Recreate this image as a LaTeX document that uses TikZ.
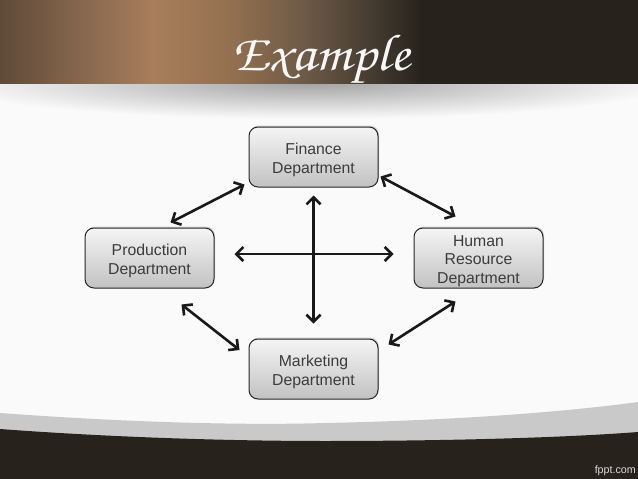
\documentclass[tikz,border=0pt]{standalone}
\usepackage{fontspec}
\setmainfont{Liberation Sans}
\usetikzlibrary{shadows,arrows.meta}
\definecolor{bandbrown}{HTML}{A87E5C}
\definecolor{banddark}{HTML}{27231C}
\definecolor{bandedge}{HTML}{5F4A38}
\definecolor{bandleft}{HTML}{7E6149}
\definecolor{bandright}{HTML}{94704F}
\definecolor{bandmid}{HTML}{6C5947}
\definecolor{bandlow}{HTML}{3F362C}
\definecolor{footgrey}{HTML}{C9C9C9}
\definecolor{textgrey}{HTML}{3C3C3C}
\pgfdeclarehorizontalshading{bandshade}{100bp}{color(0bp)=(bandedge); color(25bp)=(bandedge); color(30bp)=(bandleft); color(37bp)=(bandbrown); color(43bp)=(bandright); color(49bp)=(bandmid); color(55bp)=(bandlow); color(58bp)=(banddark); color(100bp)=(banddark)}
\newcommand{\titlefont}{\fontencoding{T1}\fontfamily{pzc}\fontseries{m}\fontshape{it}\fontsize{52}{52}\selectfont}
\newcommand{\boxstrut}{\rule{0pt}{17pt}}
\tikzset{
  deptbox/.style={draw=black!85,line width=1pt,rounded corners=9pt,minimum width=129pt,minimum height=60pt,inner ysep=0pt,
    top color=white!96!black,bottom color=black!24,align=center,text=textgrey,
    font=\fontsize{15.8}{18.3}\selectfont,
    drop shadow={shadow xshift=1pt,shadow yshift=1.5pt,opacity=0.35}},
  link/.style={<->,>={Straight Barb[length=7pt,width=14pt]},line width=2.6pt,black!90}
}
\begin{document}
\begin{tikzpicture}[x=1pt,y=-1pt]
\useasboundingbox (0,0) rectangle (638,479);
\fill[white!98!black] (0,0) rectangle (638,479);
% shadow under the band
\begin{scope}
\clip (0,83) rectangle (638,130);
\shade[inner color=black!36,outer color=white!98!black] (310,83) ellipse (360 and 36);
\end{scope}
\shade[shading=bandshade] (0,0) rectangle (638,83);
\node[anchor=base,text=white!97!black,inner sep=0pt,xscale=1.1,font=\titlefont] (title) at (321,70) {Example};
% bottom curves
\fill[footgrey] (0,413) .. controls (150,424) and (260,425) .. (325,423) .. controls (430,421) and (550,414) .. (638,402) -- (638,479) -- (0,479) -- cycle;
\fill[banddark] (0,429) .. controls (120,438) and (240,441) .. (325,441) .. controls (440,441) and (560,438) .. (638,432) -- (638,479) -- (0,479) -- cycle;
\node[anchor=south east,inner sep=0pt,text=white!85!black,font=\fontsize{10.7}{11}\selectfont] (footer) at (636,476) {fppt.com};
% departments
\node[deptbox] (finance) at (313.5,157) {\boxstrut Finance\\Department};
\node[deptbox] (production) at (149.5,258) {\boxstrut Production\\Department};
\node[deptbox] (humanres) at (478.5,258) {\boxstrut Human\\Resource\\Department};
\node[deptbox] (marketing) at (313.5,369) {\boxstrut Marketing\\Department};
% links
\draw[link] ([shift={(21,-5)}]production.north) -- ([shift={(-4,-3)}]finance.south west);
\draw[link] ([shift={(2,-11)}]finance.south east) -- ([shift={(-23,-11)}]humanres.north);
\draw[link] ([shift={(32,16)}]production.south) -- ([shift={(-9,-19)}]marketing.west);
\draw[link] ([shift={(-23,13)}]humanres.south) -- ([shift={(10,-55)}]marketing.south east);
\draw[link,shorten <=8pt,shorten >=15pt] (finance.south) -- (marketing.north);
\draw[link,shorten <=20pt,shorten >=20pt] ([yshift=4pt]production.east) -- ([yshift=4pt]humanres.west);
\end{tikzpicture}
\end{document}
